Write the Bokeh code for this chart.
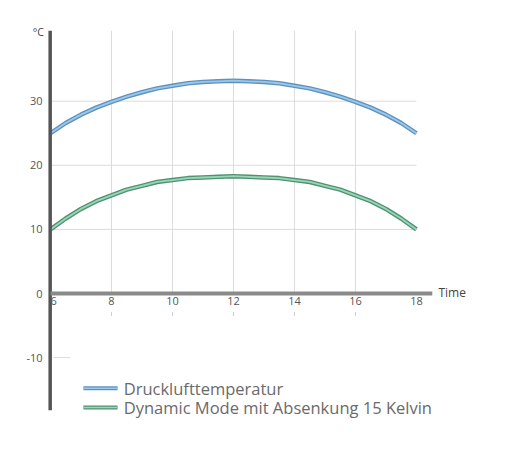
#Script to redraw the compressed-air temperature chart with bokeh

##### IMPORT NECESSARY MODULES #####
from bokeh.plotting import figure
from bokeh.core.properties import value
from bokeh.embed import file_html
from bokeh.resources import INLINE

#### DATA ####
#time of day (hours), half-hour steps
hours = [6, 6.5, 7, 7.5, 8, 8.5, 9, 9.5, 10, 10.5, 11, 11.5, 12,
         12.5, 13, 13.5, 14, 14.5, 15, 15.5, 16, 16.5, 17, 17.5, 18]

#Drucklufttemperatur (blue)
druckluft = [25.0, 26.6, 27.9, 29.0, 29.9, 30.7, 31.4, 32.0, 32.4, 32.8, 33.0, 33.1, 33.2,
             33.1, 33.0, 32.8, 32.4, 32.0, 31.4, 30.7, 29.9, 29.0, 27.9, 26.6, 25.0]

#Dynamic Mode mit Absenkung 15 Kelvin (green)
dynamic = [10.0, 11.7, 13.2, 14.4, 15.3, 16.2, 16.8, 17.4, 17.7, 18.0, 18.1, 18.2, 18.3,
           18.2, 18.1, 18.0, 17.7, 17.4, 16.8, 16.2, 15.3, 14.4, 13.2, 11.7, 10.0]

series_names = ["Drucklufttemperatur", "Dynamic Mode mit Absenkung 15 Kelvin"]

#axis ticks
x_ticks = [6, 8, 10, 12, 14, 16, 18]
x_grid = [8, 10, 12, 14, 16]
y_ticks = [-10, 0, 10, 20, 30]
y_grid = [10, 20, 30]

#### COLORS ####
blue_dark, blue_light = "#5f91bf", "#9ac8ea"
green_dark, green_light = "#4f9171", "#9ad6b8"
grid_color = "#dcdcdc"
text_color = "#555555"
font = value("Open Sans")

#### FIGURE ####
#the frame covers the whole figure, axes are drawn by hand at x=6 / y=0
p = figure(width=494, height=438, x_range=(4.361, 20.56), y_range=(-22.62, 45.71),
           x_axis_type=None, y_axis_type=None, min_border=0,
           toolbar_location=None, output_backend="svg")
p.outline_line_color = None
p.grid.visible = False

#grid lines
p.segment(x0=x_grid, y0=[0] * len(x_grid), x1=x_grid, y1=[41.0] * len(x_grid),
          line_color=grid_color, line_width=1)
p.segment(x0=[6] * len(y_grid), y0=y_grid, x1=[18.0] * len(y_grid), y1=y_grid,
          line_color=grid_color, line_width=1)
p.segment(x0=[6.1], y0=[-10], x1=[6.65], y1=[-10], line_color=grid_color, line_width=1)

#little marks below the time axis
p.segment(x0=x_grid, y0=[-2.9] * len(x_grid), x1=x_grid, y1=[-3.5] * len(x_grid),
          line_color="#cccccc", line_width=1)

#curves (dark edge + light core)
p.line(hours, druckluft, line_color=blue_dark, line_width=4.5, line_join="round")
p.line(hours, druckluft, line_color=blue_light, line_width=1.8, line_join="round")
p.line(hours, dynamic, line_color=green_dark, line_width=4.5, line_join="round")
p.line(hours, dynamic, line_color=green_light, line_width=1.8, line_join="round")

#axes
p.segment(x0=[5.99], y0=[-18.2], x1=[5.99], y1=[41.0], line_color="#555555", line_width=3.5)
p.segment(x0=[6], y0=[0], x1=[18.52], y1=[0], line_color="#8a8a8a", line_width=4)

#tick labels
p.text(x=[5.74] * len(y_ticks), y=y_ticks, text=[str(t) for t in y_ticks],
       text_align="right", text_baseline="middle", text_font=font,
       text_font_size="11px", text_color=text_color)
p.text(x=[6.1] + x_ticks[1:], y=[-0.55] * len(x_ticks), text=[str(t) for t in x_ticks],
       text_align="center", text_baseline="top", text_font=font,
       text_font_size="11px", text_color=text_color)
p.text(x=[5.6], y=[40.8], text=["°C"], text_align="center", text_baseline="middle",
       text_font=font, text_font_size="10.5px", text_color="#444444")
p.text(x=[18.72], y=[0.2], text=["Time"], text_align="left", text_baseline="middle",
       text_font=font, text_font_size="12px", text_color="#444444")

#legend
legend_y = [-14.8, -17.8]
p.segment(x0=[7.08] * 2, y0=legend_y, x1=[8.2] * 2, y1=legend_y,
          line_color=[blue_dark, green_dark], line_width=4)
p.segment(x0=[7.08] * 2, y0=legend_y, x1=[8.2] * 2, y1=legend_y,
          line_color=[blue_light, green_light], line_width=1.5)
p.text(x=[8.4] * 2, y=legend_y, text=series_names, text_align="left",
       text_baseline="middle", text_font=font, text_font_size="16.5px", text_color="#6a6a6a")

open("out.html", "w").write(file_html(p, INLINE))
